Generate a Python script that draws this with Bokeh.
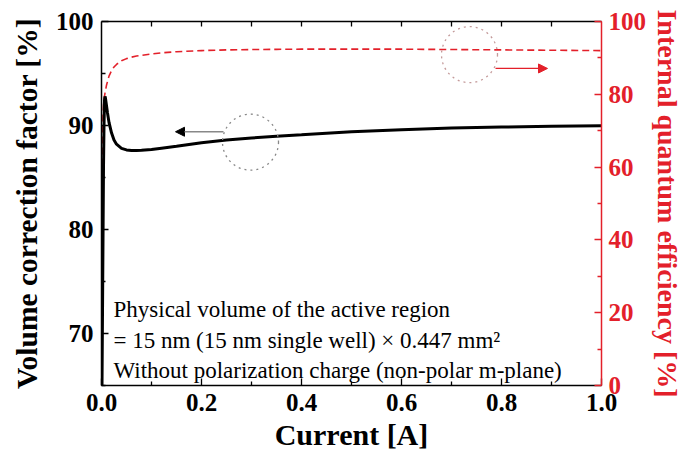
from bokeh.plotting import figure
from bokeh.models import (Range1d, LinearAxis, Label, Arrow, NormalHead,
                          FixedTicker, PrintfTickFormatter, ColumnDataSource)
from bokeh.embed import file_html
from bokeh.resources import INLINE

# Injection current sweep [A]
current = [0.0, 0.0005, 0.001, 0.002, 0.003, 0.004, 0.005, 0.006, 0.007, 0.008,
           0.01, 0.012, 0.015, 0.02, 0.025, 0.03, 0.04, 0.05, 0.06, 0.07, 0.08,
           0.1, 0.12, 0.15, 0.2, 0.25, 0.3, 0.35, 0.4, 0.5, 0.6, 0.7, 0.8, 0.9, 1.0]

# Volume correction factor [%] (left axis)
volume_factor = [60.0, 62.0, 65.0, 72.0, 79.0, 86.0, 90.0, 92.4, 92.8, 92.6,
                 91.9, 91.2, 90.3, 89.3, 88.6, 88.2, 87.8, 87.65, 87.6, 87.6, 87.62,
                 87.7, 87.82, 88.0, 88.35, 88.6, 88.8, 88.97, 89.1, 89.4, 89.6,
                 89.75, 89.85, 89.92, 89.97]

# Internal quantum efficiency [%] (right axis)
iqe = [0.0, 30.0, 50.0, 68.0, 74.0, 77.0, 78.5, 79.5, 80.3, 81.0,
       82.5, 83.5, 85.0, 86.5, 87.5, 88.2, 89.2, 89.8, 90.2, 90.5, 90.7,
       91.1, 91.4, 91.7, 92.0, 92.2, 92.3, 92.35, 92.4, 92.4, 92.4,
       92.3, 92.2, 92.1, 92.0]

x_ticks = [0.0, 0.2, 0.4, 0.6, 0.8, 1.0]
left_ticks = [70, 80, 90, 100]
right_ticks = [0, 20, 40, 60, 80, 100]

note_lines = [
    "Physical volume of the active region",
    "= 15 nm (15 nm single well) × 0.447 mm²",
    "Without polarization charge (non-polar m-plane)",
]

RED = "#e3202a"
SERIF = "Liberation Serif"


def midpoints(ticks):
    return [(a + b) / 2 for a, b in zip(ticks[:-1], ticks[1:])]


src = ColumnDataSource(dict(current=current, vf=volume_factor, iqe=iqe))

p = figure(width=686, height=465, x_range=Range1d(0, 1), y_range=Range1d(65, 100),
           output_backend="svg", toolbar_location=None,
           min_border_left=101, min_border_right=85,
           min_border_top=21, min_border_bottom=80,
           x_axis_location=None, y_axis_location=None)
p.extra_y_ranges = {"iqe": Range1d(0, 100)}
p.grid.visible = False
p.outline_line_color = None
p.background_fill_color = "white"
p.border_fill_color = "white"


def style_axis(ax, color, title_size="28px"):
    ax.axis_line_color = color
    ax.axis_line_width = 1.5
    ax.major_tick_line_color = color
    ax.minor_tick_line_color = color
    ax.major_tick_in = 7
    ax.major_tick_out = 0
    ax.minor_tick_in = 4
    ax.minor_tick_out = 0
    ax.major_tick_line_width = 1.3
    ax.minor_tick_line_width = 1.3
    ax.major_label_text_font = SERIF
    ax.major_label_text_font_style = "bold"
    ax.major_label_text_font_size = "25px"
    ax.major_label_text_color = color
    ax.axis_label_text_font = SERIF
    ax.axis_label_text_font_style = "bold"
    ax.axis_label_text_font_size = title_size
    ax.axis_label_text_color = color


xt = FixedTicker(ticks=x_ticks, minor_ticks=midpoints(x_ticks))
bottom = LinearAxis(ticker=xt, formatter=PrintfTickFormatter(format="%.1f"),
                    axis_label="Current [A]")
style_axis(bottom, "black", "30px")
bottom.major_label_standoff = 8
bottom.axis_label_standoff = 4
p.add_layout(bottom, "below")

# Top frame edge: unlabeled ticks every 0.1
top_ticks = sorted(x_ticks[1:-1] + midpoints(x_ticks))
top = LinearAxis(ticker=FixedTicker(ticks=[], minor_ticks=top_ticks))
style_axis(top, "black")
top.minor_tick_in = 5
p.add_layout(top, "above")

lt = FixedTicker(ticks=left_ticks, minor_ticks=midpoints([60] + left_ticks))
left = LinearAxis(ticker=lt, axis_label="Volume correction factor [%]")
style_axis(left, "black", "29.5px")
left.major_label_standoff = 8
left.axis_label_standoff = 10
p.add_layout(left, "left")

rt = FixedTicker(ticks=right_ticks, minor_ticks=midpoints(right_ticks))
right = LinearAxis(ticker=rt, y_range_name="iqe",
                   axis_label="Internal quantum efficiency [%]")
style_axis(right, RED)
right.major_label_standoff = 7
right.axis_label_standoff = 3
p.add_layout(right, "right")

# Curves
p.line("current", "iqe", source=src, y_range_name="iqe",
       line_color=RED, line_width=1.6, line_dash="7 4")
p.line("current", "vf", source=src, line_color="black", line_width=3)

# Callouts pointing each curve to its axis
p.scatter(x=[0.298], y=[88.4], size=56, marker="circle", fill_color=None,
          line_color="#888888", line_dash="dotted", line_width=1.3)
p.add_layout(Arrow(x_start=0.244, y_start=89.4, x_end=0.148, y_end=89.4,
                   line_color="#888888", line_width=1.5,
                   end=NormalHead(size=9, fill_color="black", line_color="black")))

p.scatter(x=[0.736], y=[90.9], size=56, marker="circle", fill_color=None,
          line_color="#c49a9a", line_dash="dotted", line_width=1.3,
          y_range_name="iqe")
p.add_layout(Arrow(x_start=0.788, y_start=87.1, x_end=0.892, y_end=87.1,
                   y_range_name="iqe", line_color=RED, line_width=1.3,
                   end=NormalHead(size=9, fill_color=RED, line_color=RED)))

# Note block
for txt, yv in zip(note_lines, [72.3, 69.33, 66.44]):
    p.add_layout(Label(x=0.024, y=yv, text=txt, text_font=SERIF,
                       text_font_size="23px", text_color="black",
                       text_baseline="alphabetic"))

open("out.html", "w").write(file_html(p, INLINE))
